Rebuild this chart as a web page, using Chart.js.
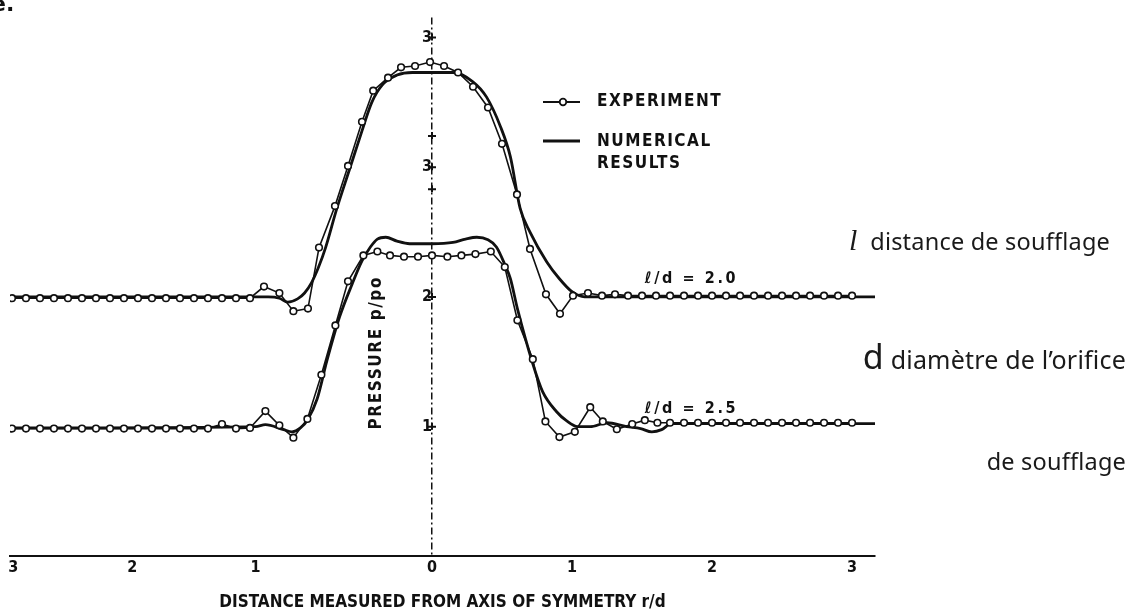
<!DOCTYPE html>
<html>
<head>
<meta charset="utf-8">
<script src="https://cdn.jsdelivr.net/npm/chart.js@4.4.1/dist/chart.umd.min.js"></script>
<style>
 html, body { margin:0; padding:0; background:#fff; }
 #wrap { position:relative; width:1146px; height:615px; overflow:hidden; }
 #cnv { position:absolute; left:0; top:0; }
 .note { position:absolute; white-space:nowrap; font-family:"Noto Sans", sans-serif; font-size:23.5px; color:#1a1a1a; line-height:34px; letter-spacing:0.2px; }
 .big-l { font-family:"Liberation Serif", serif; font-style:italic; font-size:30px; }
 .big-d { font-size:34px; }
 .scrap { position:absolute; left:-9px; top:-9px; font:bold 22px "DejaVu Sans", sans-serif; color:#111; }
</style>
</head>
<body>
<div id="wrap">
 <canvas id="cnv" width="1146" height="615"></canvas>
 <div class="scrap">e.</div>
 <div class="note" style="top:223px; right:36px"><span class="big-l">l</span>&nbsp; distance de soufflage</div>
 <div class="note" style="top:339px; right:20px; font-size:25px"><span class="big-d">d</span> diamètre de l’orifice</div>
 <div class="note" style="top:444px; right:20px">de soufflage</div>
</div>
<script>
"use strict";

// r/d axis: tick places as they sit on the scanned figure, and their printed labels
const xTickPos  = [-2.99, -2.14, -1.26, 0, 1, 2, 3];
const xTickText = ['3', '2', '1', '0', '1', '2', '3'];
const yTickPos  = [1, 2, 2.83, 3, 3.24, 4];
const yTickText = ['1', '2', '', '3', '', '3'];

// l/d = 2.0 , experiment (circles)
const exp20X = [-3.0, -2.9, -2.8, -2.7, -2.6, -2.5, -2.4, -2.3, -2.2, -2.1, -2.0, -1.9, -1.8, -1.7, -1.6, -1.5, -1.4, -1.3,
                -1.2, -1.09, -0.99, -0.886, -0.807, -0.693, -0.6, -0.5, -0.42, -0.314, -0.221, -0.121, -0.014, 0.086, 0.186,
                0.293, 0.4, 0.5, 0.607, 0.7, 0.814, 0.914, 1.007, 1.114, 1.214, 1.307,
                1.4, 1.5, 1.6, 1.7, 1.8, 1.9, 2.0, 2.1, 2.2, 2.3, 2.4, 2.5, 2.6, 2.7, 2.8, 2.9, 3.0];
const exp20Y = [1.99, 1.99, 1.99, 1.99, 1.99, 1.99, 1.99, 1.99, 1.99, 1.99, 1.99, 1.99, 1.99, 1.99, 1.99, 1.99, 1.99, 1.99,
                2.08, 2.03, 1.89, 1.91, 2.38, 2.70, 3.01, 3.35, 3.59, 3.69, 3.77, 3.78, 3.81, 3.78, 3.73,
                3.62, 3.46, 3.18, 2.79, 2.37, 2.02, 1.87, 2.01, 2.03, 2.01, 2.02,
                2.01, 2.01, 2.01, 2.01, 2.01, 2.01, 2.01, 2.01, 2.01, 2.01, 2.01, 2.01, 2.01, 2.01, 2.01, 2.01, 2.01];

// l/d = 2.0 , numerical results (thick line)
const num20X = [-3.02, -1.26, -1.17, -1.09, -1.03, -0.96, -0.91, -0.86, -0.81, -0.76, -0.68, -0.59, -0.5, -0.43, -0.35, -0.25,
                -0.14, 0, 0.15, 0.29, 0.39, 0.49, 0.56, 0.63, 0.7, 0.82, 0.91, 1.0, 1.09, 1.2, 3.2];
const num20Y = [2.0, 2.0, 2.0, 1.99, 1.96, 1.985, 2.03, 2.11, 2.23, 2.38, 2.68, 2.98, 3.28, 3.5, 3.64, 3.71,
                3.73, 3.73, 3.73, 3.66, 3.54, 3.31, 3.08, 2.68, 2.5, 2.27, 2.14, 2.04, 2.0, 2.0, 2.0];

// l/d = 2.5 , experiment (circles)
const exp25X = [-3.0, -2.9, -2.8, -2.7, -2.6, -2.5, -2.4, -2.3, -2.2, -2.1, -2.0, -1.9, -1.8, -1.7, -1.6, -1.5, -1.4, -1.3,
                -1.19, -1.09, -0.99, -0.89, -0.79, -0.69, -0.6, -0.49, -0.39, -0.3, -0.2, -0.1, 0, 0.11, 0.21, 0.31, 0.42,
                0.52, 0.61, 0.72, 0.81, 0.91, 1.02, 1.13, 1.22, 1.32, 1.43, 1.52, 1.61,
                1.7, 1.8, 1.9, 2.0, 2.1, 2.2, 2.3, 2.4, 2.5, 2.6, 2.7, 2.8, 2.9, 3.0];
const exp25Y = [0.985, 0.985, 0.985, 0.985, 0.985, 0.985, 0.985, 0.985, 0.985, 0.985, 0.985, 0.985, 0.985, 0.985, 0.985, 1.02, 0.985, 0.99,
                1.12, 1.01, 0.915, 1.06, 1.4, 1.78, 2.12, 2.32, 2.35, 2.32, 2.31, 2.31, 2.32, 2.31, 2.32, 2.33, 2.35,
                2.23, 1.82, 1.52, 1.04, 0.92, 0.96, 1.15, 1.04, 0.98, 1.02, 1.05, 1.03,
                1.03, 1.03, 1.03, 1.03, 1.03, 1.03, 1.03, 1.03, 1.03, 1.03, 1.03, 1.03, 1.03, 1.03];

// l/d = 2.5 , numerical results (thick line)
const num25X = [-3.02, -1.26, -1.19, -1.06, -1.0, -0.94, -0.89, -0.82, -0.75, -0.66, -0.57, -0.5, -0.44, -0.39, -0.33, -0.25,
                -0.16, 0, 0.15, 0.24, 0.32, 0.4, 0.46, 0.52, 0.56, 0.61, 0.72, 0.79, 0.89, 0.96, 1.04, 1.13, 1.25, 1.39,
                1.49, 1.57, 1.64, 1.71, 3.2];
const num25Y = [0.99, 1.0, 1.015, 0.977, 0.96, 0.99, 1.05, 1.215, 1.51, 1.846, 2.1, 2.277, 2.385, 2.446, 2.46, 2.43,
                2.41, 2.41, 2.42, 2.446, 2.46, 2.44, 2.385, 2.25, 2.14, 1.91, 1.485, 1.27, 1.115, 1.046, 1.0, 1.0, 1.03, 1.0,
                0.985, 0.96, 0.977, 1.023, 1.023];

// printed curve labels: text and where they sit, in data units
const caseText = ['ℓ/d = 2.0', 'ℓ/d = 2.5'];
const caseAt   = [{ x: 1.52, y: 2.14 }, { x: 1.52, y: 1.135 }];

const xTitle = 'DISTANCE MEASURED FROM AXIS OF SYMMETRY r/d';
const yTitle = 'PRESSURE p/po';

const INK = '#111';
const LETTER = "'DejaVu Sans Condensed', 'DejaVu Sans', sans-serif";

function pairs(xs, ys) { return xs.map((x, i) => ({ x: x, y: ys[i] })); }

function experiment(xs, ys) {
  return { data: pairs(xs, ys), borderColor: INK, borderWidth: 1.6, tension: 0,
           pointRadius: 3.3, pointBackgroundColor: '#fff', pointBorderColor: INK, pointBorderWidth: 1.6 };
}
function numerical(xs, ys) {
  return { data: pairs(xs, ys), borderColor: INK, borderWidth: 2.8, pointRadius: 0,
           cubicInterpolationMode: 'monotone' };
}

// legend, curve labels, cross ticks on the symmetry axis and the rotated pressure title
const paperNotes = {
  id: 'paperNotes',
  afterDraw(chart) {
    const ctx = chart.ctx, sx = chart.scales.x, sy = chart.scales.y;
    const x0 = sx.getPixelForValue(0);
    ctx.save();
    ctx.fillStyle = INK; ctx.strokeStyle = INK;

    // "+" ticks straddling the dash-dot axis
    ctx.lineWidth = 2;
    yTickPos.forEach(v => {
      const py = sy.getPixelForValue(v);
      ctx.beginPath(); ctx.moveTo(x0 - 4, py); ctx.lineTo(x0 + 4, py);
      ctx.moveTo(x0, py - 4); ctx.lineTo(x0, py + 3); ctx.stroke();
    });

    ctx.font = 'bold 17px ' + LETTER;
    ctx.letterSpacing = '1.5px';
    ctx.textBaseline = 'middle';

    // legend
    ctx.lineWidth = 1.8;
    ctx.beginPath(); ctx.moveTo(543, 102); ctx.lineTo(580, 102); ctx.stroke();
    ctx.fillStyle = '#fff';
    ctx.beginPath(); ctx.arc(563, 102, 3.3, 0, 2 * Math.PI); ctx.fill(); ctx.stroke();
    ctx.fillStyle = INK;
    ctx.fillText('EXPERIMENT', 597, 102);
    ctx.lineWidth = 3;
    ctx.beginPath(); ctx.moveTo(543, 141); ctx.lineTo(580, 141); ctx.stroke();
    ctx.fillText('NUMERICAL', 597, 142);
    ctx.fillText('RESULTS', 597, 164);

    // l/d labels
    ctx.font = 'bold 16px ' + LETTER;
    ctx.letterSpacing = '2.6px';
    caseText.forEach((t, i) => ctx.fillText(t, sx.getPixelForValue(caseAt[i].x), sy.getPixelForValue(caseAt[i].y)));

    // y title
    ctx.font = 'bold 17px ' + LETTER;
    ctx.letterSpacing = '1.6px';
    ctx.translate(x0 - 55, sy.getPixelForValue(1.57));
    ctx.rotate(-Math.PI / 2);
    ctx.textAlign = 'center';
    ctx.fillText(yTitle, 0, 0);
    ctx.restore();
  }
};

new Chart(document.getElementById('cnv'), {
  type: 'line',
  data: {
    datasets: [
      experiment(exp20X, exp20Y),
      experiment(exp25X, exp25Y),
      numerical(num20X, num20Y),
      numerical(num25X, num25Y)
    ]
  },
  options: {
    responsive: false,
    animation: false,
    layout: { padding: { left: 10, right: 271, top: 12, bottom: 2 } },
    plugins: { legend: { display: false }, tooltip: { enabled: false } },
    scales: {
      x: {
        type: 'linear', min: -3.014, max: 3.164,
        afterBuildTicks: (axis) => { axis.ticks = xTickPos.map(v => ({ value: v })); },
        ticks: { autoSkip: false, maxRotation: 0, padding: 2, color: INK,
                 font: { family: LETTER, size: 16, weight: 'bold' },
                 callback: (v, i) => xTickText[i] },
        // the only grid line kept is the dash-dot axis of symmetry at r/d = 0
        grid: { drawOnChartArea: true, drawTicks: false, lineWidth: 1.5,
                color: (c) => (c.tick && c.tick.value === 0 ? INK : 'rgba(0,0,0,0)') },
        border: { color: INK, width: 2, dash: [7, 3, 2, 3] },
        title: { display: true, text: xTitle, color: INK, padding: { top: 13, bottom: 0 },
                 font: { family: LETTER, size: 17, weight: 'bold' } }
      },
      y: {
        type: 'linear', min: 0, max: 4.153, position: { x: 0 },
        afterBuildTicks: (axis) => { axis.ticks = yTickPos.map(v => ({ value: v })); },
        ticks: { autoSkip: false, padding: 8, color: INK,
                 font: { family: LETTER, size: 16, weight: 'bold' },
                 callback: (v, i) => yTickText[i] },
        grid: { drawOnChartArea: false, drawTicks: false },
        border: { display: false }
      }
    }
  },
  plugins: [paperNotes]
});
</script>
</body>
</html>
